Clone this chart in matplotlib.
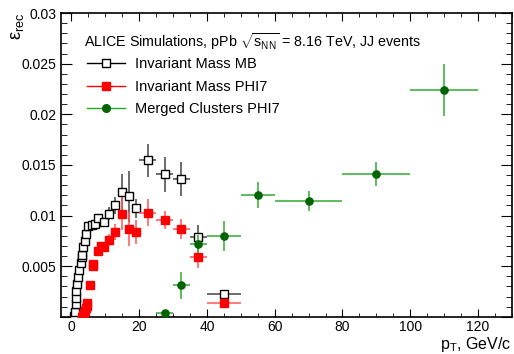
import matplotlib
matplotlib.use("Agg")
import matplotlib.pyplot as plt
from matplotlib.lines import Line2D
from matplotlib.ticker import MultipleLocator, FuncFormatter

plt.rcParams['font.family'] = ['Liberation Sans', 'DejaVu Sans']
plt.rcParams['mathtext.fontset'] = 'custom'
plt.rcParams['mathtext.rm'] = 'Liberation Sans'
plt.rcParams['mathtext.it'] = 'Liberation Sans'

# Invariant Mass MB
mb_x = [0.75, 1.0, 1.25, 1.5, 1.5, 1.75, 2.0, 2.25, 2.75, 3.0, 3.25, 3.5, 4.0, 4.25,
        5.0, 6.0, 7.0, 7.75, 9.75, 11.25, 13.0, 15.0, 17.0, 19.0, 22.5, 27.5, 32.5, 37.5, 45.0]
mb_y = [0.0001, 0.0005, 0.0013, 0.0019, 0.0026, 0.0032, 0.0039, 0.0046, 0.0053, 0.0059,
        0.0061, 0.0069, 0.0075, 0.0082, 0.0090, 0.0091, 0.0092, 0.0098, 0.0094, 0.0102,
        0.0110, 0.0123, 0.0119, 0.0107, 0.01545, 0.01406, 0.01363, 0.0079, 0.0023]
mb_xerr = [0.125]*14 + [0.5]*4 + [1.0]*6 + [2.5]*4 + [5.0]
mb_yerr = [0.0001]*14 + [0.0002, 0.0002, 0.0003, 0.0004, 0.0004, 0.0006, 0.0008,
                          0.0018, 0.0025, 0.0009, 0.0016, 0.0017, 0.0017, 0.0012, 0.0003]

# Invariant Mass PHI7
phi_x = [3.25, 3.5, 3.75, 4.0, 4.25, 4.5, 4.75, 5.5, 6.25, 6.5, 7.75, 8.75, 9.5,
         11.25, 13.0, 15.0, 17.0, 19.0, 22.5, 27.5, 32.5, 37.5, 45.0]
phi_y = [0.0000, 0.0002, 0.0004, 0.0006, 0.0009, 0.0011, 0.0014, 0.0031, 0.0050, 0.0052,
         0.0065, 0.0070, 0.0069, 0.0076, 0.0084, 0.0102, 0.0087, 0.0084, 0.0103, 0.0096,
         0.0087, 0.0059, 0.00136]
phi_xerr = [0.125]*7 + [0.25]*3 + [0.5]*3 + [1.0]*5 + [2.5]*4 + [5.0]
phi_yerr = [0.0001]*7 + [0.0002, 0.0002, 0.0002, 0.0003, 0.0003, 0.0004, 0.0006, 0.0008,
                         0.0016, 0.0017, 0.0012, 0.0013, 0.0009, 0.0010, 0.0011, 0.0003]

# Merged Clusters PHI7
mc_x = [27.5, 32.5, 37.5, 45.0, 55.0, 70.0, 90.0, 110.0]
mc_y = [0.0004, 0.0031, 0.0072, 0.0080, 0.0120, 0.01146, 0.01413, 0.0224]
mc_xerr = [2.5, 2.5, 2.5, 5.0, 5.0, 10.0, 10.0, 10.0]
mc_yerr = [0.0003, 0.0013, 0.0009, 0.0015, 0.0013, 0.0010, 0.0012, 0.0026]

fig = plt.figure(figsize=(5.14, 3.54), dpi=100)
ax = fig.add_axes([0.119, 0.105, 0.877, 0.858])

ax.errorbar(mb_x, mb_y, xerr=mb_xerr, yerr=mb_yerr, fmt='s', mfc='white', mec='black',
            ms=5.2, mew=1.0, ecolor='#444444', elinewidth=1.1, capsize=0, zorder=3)
ax.errorbar(phi_x, phi_y, xerr=phi_xerr, yerr=phi_yerr, fmt='s', mfc='red', mec='red',
            ms=5.2, ecolor='#ff5555', elinewidth=1.1, capsize=0, zorder=4)
ax.errorbar(mc_x, mc_y, xerr=mc_xerr, yerr=mc_yerr, fmt='o', mfc='#006400', mec='#006400',
            ms=5.2, ecolor='#33aa33', elinewidth=1.1, capsize=0, zorder=5)

ax.set_xlim(-3, 130)
ax.set_ylim(0, 0.03)
ax.xaxis.set_major_locator(MultipleLocator(20))
ax.xaxis.set_minor_locator(MultipleLocator(5))
ax.yaxis.set_major_locator(MultipleLocator(0.005))
ax.yaxis.set_minor_locator(MultipleLocator(0.001))
ax.yaxis.set_major_formatter(FuncFormatter(lambda v, p: '' if abs(v) < 1e-9 else '%g' % v))
ax.tick_params(which='both', direction='in', top=True, right=True, labelsize=10)
ax.tick_params(axis='x', which='major', length=6, pad=2)
ax.tick_params(axis='x', which='minor', length=3)
ax.tick_params(axis='y', which='major', length=8)
ax.tick_params(axis='y', which='minor', length=4)
for s in ax.spines.values():
    s.set_linewidth(1.2)

fig.text(0.995, 0.0, r'p$_{\mathrm{T}}$, GeV/c', ha='right', va='bottom', fontsize=11.5)
fig.text(0.035, 0.965, r'$\mathrm{\varepsilon}_{\mathrm{rec}}$', ha='center', va='top',
         rotation=90, fontsize=13)

ax.text(0.05, 0.905, r'ALICE Simulations, pPb $\sqrt{\mathrm{s}_{\mathrm{NN}}}$ = 8.16 TeV, JJ events',
        transform=ax.transAxes, fontsize=10.3, va='center')

handles = [
    Line2D([], [], color='black', marker='s', mfc='white', mec='black', ms=5.5, lw=1),
    Line2D([], [], color='red', marker='s', mfc='red', mec='red', ms=5.5, lw=1),
    Line2D([], [], color='#22aa22', marker='o', mfc='#006400', mec='#006400', ms=5.5, lw=1),
]
labels = ['Invariant Mass MB', 'Invariant Mass PHI7', 'Merged Clusters PHI7']
ax.legend(handles, labels, loc='upper left', bbox_to_anchor=(0.045, 0.875), frameon=False,
          fontsize=10.5, handlelength=2.6, handletextpad=0.7, labelspacing=0.6,
          borderaxespad=0)

fig.savefig('out.png', dpi=100)
